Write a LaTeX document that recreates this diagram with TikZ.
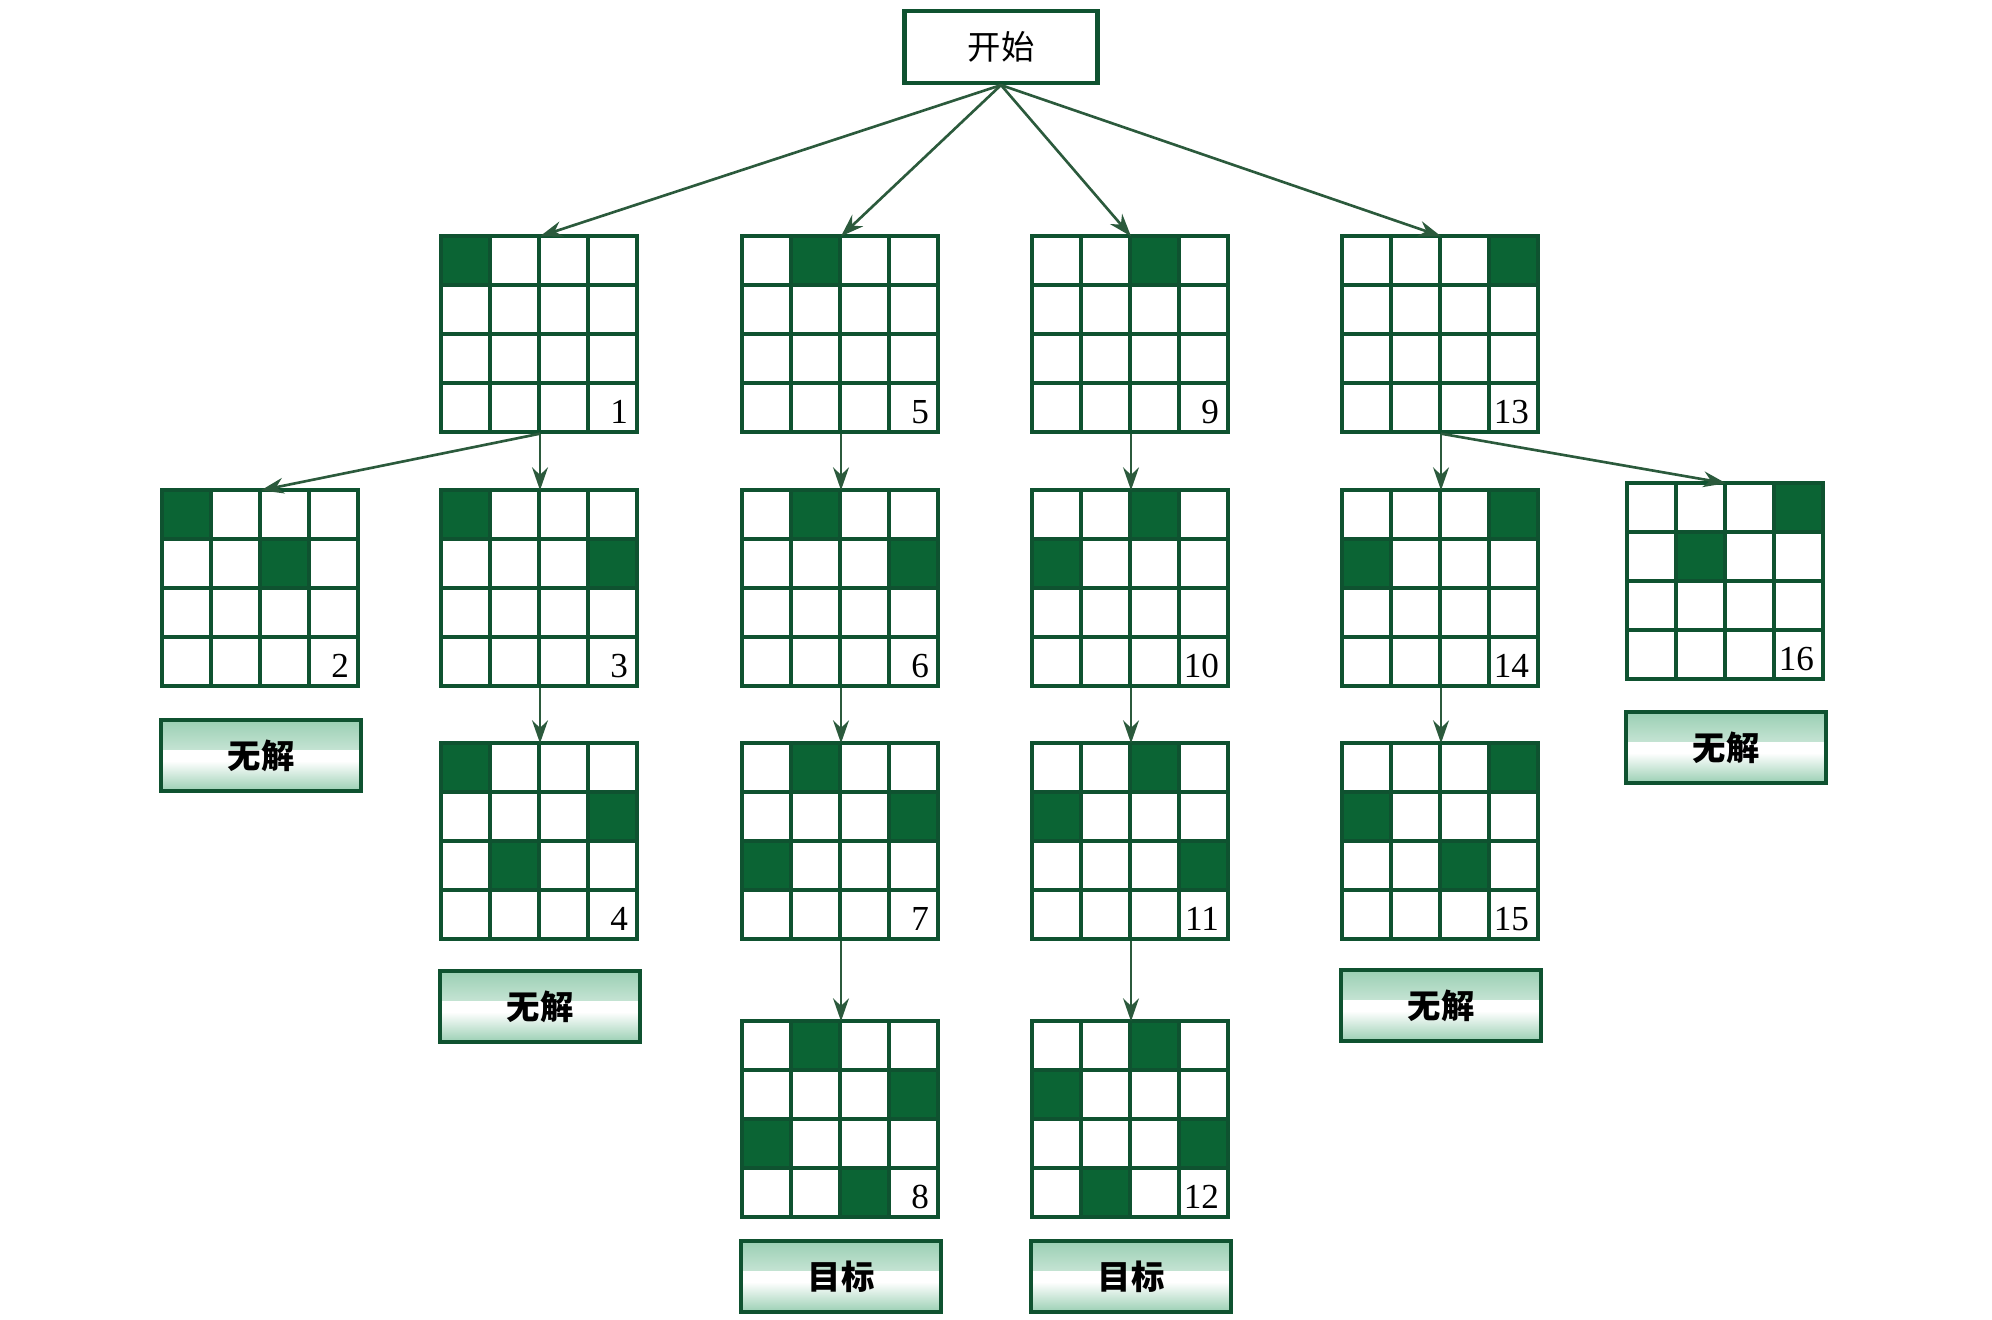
\documentclass[tikz,border=0pt]{standalone}
\usepackage{fontspec}
\setmainfont{Liberation Serif}
\newfontfamily\cjk{Noto Sans CJK SC}
\usetikzlibrary{positioning,arrows.meta}
\definecolor{boardgreen}{HTML}{0F5230}
\definecolor{queengreen}{HTML}{0B6434}
\definecolor{edgegreen}{HTML}{2B5A3C}
\definecolor{shadegreen}{HTML}{9ACFB3}

\newcommand{\qboard}[4]{%
  \node[board] (b#1) at (#2) {};
  \begin{scope}[shift={(b#1.north west)}]
    \foreach \r/\c in {#3}
      \fill[queengreen] (\c*0.49,-\r*0.49) rectangle ++(0.49,-0.49);
    \foreach \i in {1,2,3} {
      \draw[gridline] (\i*0.49,0) -- (\i*0.49,-1.96);
      \draw[gridline] (0,-\i*0.49) -- (1.96,-\i*0.49);
    }
    \draw[gridline] (0,0) rectangle (1.96,-1.96);
  \end{scope}
  \node[num] (n#1) at (b#1.south east) {#4};
}

\begin{document}
\begin{tikzpicture}[>={Stealth[length=6.5pt,width=4.5pt]}, every node/.style={font=\fontsize{9}{11}\selectfont}]
\tikzstyle{board}=[rectangle, minimum size=1.96cm, inner sep=0pt]
\tikzstyle{gridline}=[boardgreen, line width=1.2pt]
\tikzstyle{num}=[anchor=south east, inner sep=0pt, xshift=-0.1cm, yshift=0.09cm, font=\fontsize{10}{11}\selectfont]
\tikzstyle{startbox}=[rectangle, draw=boardgreen, line width=1.2pt, minimum width=1.93cm, minimum height=0.72cm, font=\cjk\fontsize{9.5}{11}\selectfont]
\tikzstyle{endbox}=[rectangle, draw=boardgreen, line width=1.3pt, minimum width=2cm, minimum height=0.71cm, font=\cjk\bfseries\fontsize{9.5}{11}\selectfont,
  path picture={
    \shade[top color=shadegreen, bottom color=white] (path picture bounding box.north west) rectangle ([yshift=-0.3cm]path picture bounding box.north east);
    \shade[top color=white, bottom color=shadegreen] ([yshift=0.3cm]path picture bounding box.south west) rectangle (path picture bounding box.south east);
  }]
\tikzstyle{edge}=[->, edgegreen, line width=0.75pt]
\useasboundingbox (0,0) rectangle (19.92,13.2);

\node[startbox] (start) at (10.01,12.73) {开始};

\qboard{1}{5.40,9.85}{0/0}{1}
\qboard{5}{8.41,9.85}{0/1}{5}
\qboard{9}{11.31,9.85}{0/2}{9}
\qboard{13}{14.41,9.85}{0/3}{13}

\qboard{2}{2.61,7.31}{0/0,1/2}{2}
\qboard{3}{5.40,7.31}{0/0,1/3}{3}
\qboard{6}{8.41,7.31}{0/1,1/3}{6}
\qboard{10}{11.31,7.31}{0/2,1/0}{10}
\qboard{14}{14.41,7.31}{0/3,1/0}{14}
\qboard{16}{17.26,7.38}{0/3,1/1}{16}

\qboard{4}{5.40,4.78}{0/0,1/3,2/1}{4}
\qboard{7}{8.41,4.78}{0/1,1/3,2/0}{7}
\qboard{11}{11.31,4.78}{0/2,1/0,2/3}{11}
\qboard{15}{14.41,4.78}{0/3,1/0,2/2}{15}

\qboard{8}{8.41,2.00}{0/1,1/3,2/0,3/2}{8}
\qboard{12}{11.31,2.00}{0/2,1/0,2/3,3/1}{12}

\node[endbox, below=0.3cm of b2] (fail2) {无解};
\node[endbox, below=0.28cm of b4] (fail4) {无解};
\node[endbox, below=0.27cm of b15] (fail15) {无解};
\node[endbox, below=0.29cm of b16] (fail16) {无解};
\node[endbox, below=0.2cm of b8] (goal8) {目标};
\node[endbox, below=0.2cm of b12] (goal12) {目标};

\draw[edge] (start.south) -- (b1.north);
\draw[edge] (start.south) -- (b5.north);
\draw[edge] (start.south) -- (b9.north);
\draw[edge] (start.south) -- (b13.north);
\draw[edge] (b1.south) -- (b2.north);
\draw[edge] (b1.south) -- (b3.north);
\draw[edge] (b3.south) -- (b4.north);
\draw[edge] (b5.south) -- (b6.north);
\draw[edge] (b6.south) -- (b7.north);
\draw[edge] (b7.south) -- (b8.north);
\draw[edge] (b9.south) -- (b10.north);
\draw[edge] (b10.south) -- (b11.north);
\draw[edge] (b11.south) -- (b12.north);
\draw[edge] (b13.south) -- (b14.north);
\draw[edge] (b13.south) -- (b16.north);
\draw[edge] (b14.south) -- (b15.north);
\end{tikzpicture}
\end{document}
